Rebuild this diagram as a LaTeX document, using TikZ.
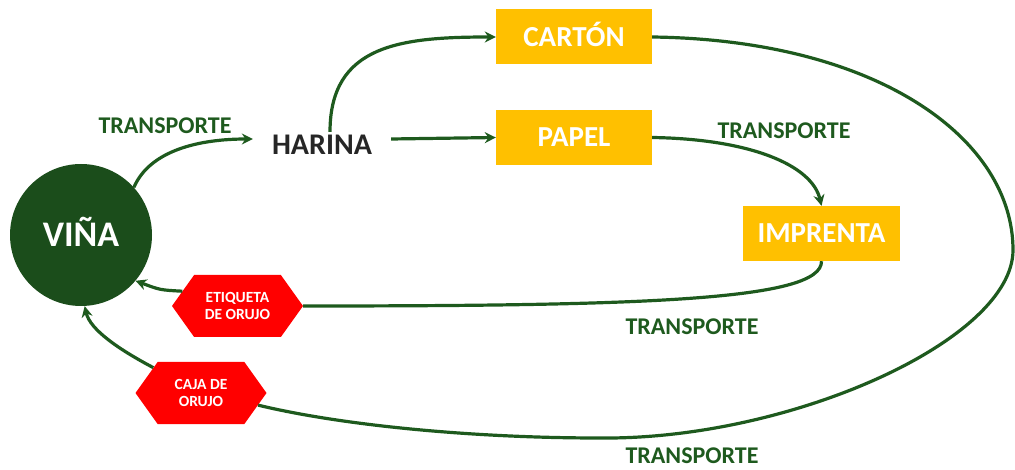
\documentclass[tikz,border=0pt]{standalone}
\usepackage{fontspec}
\setmainfont{Carlito}
\usetikzlibrary{arrows.meta,shapes.symbols}
\definecolor{vinagreen}{HTML}{1B4D1B}
\definecolor{linegreen}{HTML}{1E5A1E}
\definecolor{boxgold}{HTML}{FFC000}
\definecolor{hexred}{HTML}{FF0000}
\begin{document}
\begin{tikzpicture}[x=1pt,y=-1pt,
    flow/.style={draw=linegreen,line width=3.2pt,-{Stealth[length=11pt,width=11pt]}},
    link/.style={draw=linegreen,line width=3.2pt},
    stage/.style={fill=boxgold,text=white,font=\fontsize{29}{30}\selectfont\bfseries,
      minimum width=156pt,minimum height=55pt,text height=18.3pt,text depth=0pt,inner sep=0pt},
    waste/.style={signal,signal to=east and west,signal pointer angle=109,fill=hexred,
      text=white,font=\fontsize{15.5}{17}\selectfont\bfseries,align=center,
      minimum width=131pt,minimum height=62pt,inner sep=0pt},
    tlabel/.style={text=linegreen,font=\fontsize{24}{26}\selectfont\bfseries,
      text height=15.2pt,text depth=0pt,inner sep=1pt}]
  \useasboundingbox (0,0) rectangle (1015,470);
  % nodes
  \node[circle,fill=vinagreen,minimum size=142pt,inner sep=0pt,text=white,
    font=\fontsize{36}{38}\selectfont\bfseries,text height=22.8pt,text depth=0pt] (vina) at (81,235) {VIÑA};
  \node[font=\fontsize{30}{32}\selectfont\bfseries,text=black!85,text height=19pt,text depth=0pt,inner xsep=19pt] (harina) at (322,145) {HARINA};
  \node[stage] (carton) at (574,37) {CARTÓN};
  \node[stage] (papel) at (574,137.5) {PAPEL};
  \node[stage,minimum width=157pt] (imprenta) at (821.5,233.5) {IMPRENTA};
  \node[waste] (etiqueta) at (237.5,306) {ETIQUETA\\DE ORUJO};
  \node[waste] (caja) at (201,393) {CAJA DE\\ORUJO};
  \node[tlabel] (t1) at (165,126) {TRANSPORTE};
  \node[tlabel] (t2) at (784,131) {TRANSPORTE};
  \node[tlabel] (t3) at (692,327) {TRANSPORTE};
  \node[tlabel] (t4) at (692,456) {TRANSPORTE};
  \coordinate (rgt) at (1013,250);
  \coordinate (bot) at (600,438);
  % connectors
  \draw[flow] (vina.42) .. controls (150,150) and (200,139) .. ([yshift=6pt]harina.west);
  \draw[flow] ([xshift=8pt]harina.north) .. controls (330,45) and (400,37) .. (carton.west);
  \draw[flow] ([yshift=6pt]harina.east) -- (papel.west);
  \draw[flow] (papel.east) .. controls (750,139) and (812,165) .. (imprenta.north);
  \draw[link] (imprenta.south) .. controls (822,300) and (650,306) .. (etiqueta.east);
  \draw[flow] (etiqueta.165) .. controls (160,290) .. (vina.-40);
  \draw[link] (carton.east) .. controls (880,40) and (1013,140) .. (rgt)
    .. controls (1013,340) and (790,440) .. (bot)
    .. controls (470,438) and (340,425) .. (caja.-12);
  \draw[flow] (caja.152) .. controls (120,350) and (90,330) .. (vina.-87);
\end{tikzpicture}
\end{document}
